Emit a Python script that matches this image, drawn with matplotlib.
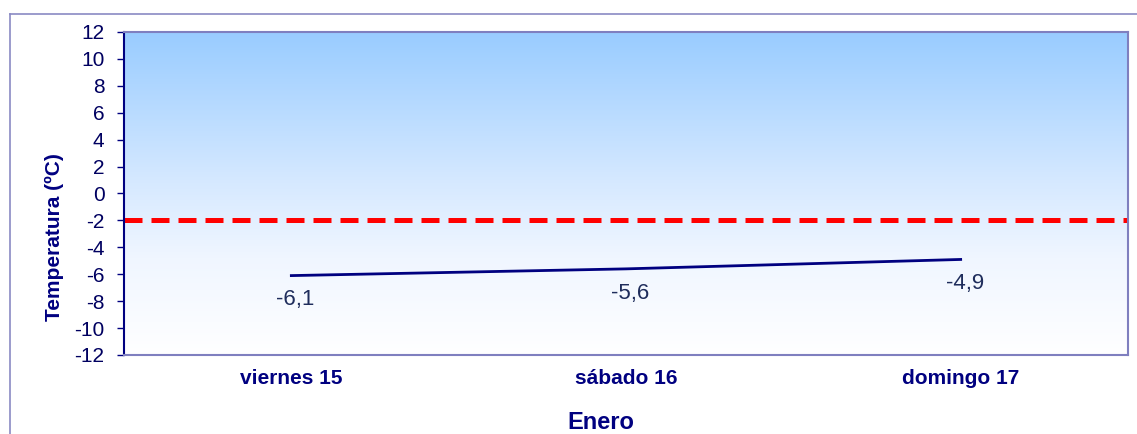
import matplotlib
matplotlib.use("Agg")
import matplotlib.pyplot as plt
from matplotlib.colors import LinearSegmentedColormap
from matplotlib.lines import Line2D
import numpy as np

# Data
days = ["viernes 15", "sábado 16", "domingo 17"]
temps = [-6.1, -5.6, -4.9]
threshold = -2
y_ticks = list(range(-12, 13, 2))

W, H = 1137, 434
fig = plt.figure(figsize=(W / 100, H / 100), dpi=100)
fig.patch.set_facecolor("white")

ax = fig.add_axes([124 / W, 1 - 355 / H, (1128 - 124) / W, (355 - 32) / H])

x = np.arange(len(days))
ax.set_xlim(-0.5, len(days) - 0.5)
ax.set_ylim(-12, 12)

# background gradient: light blue at top, white at bottom
cmap = LinearSegmentedColormap.from_list(
    "bg", [(0, "#ffffff"), (0.3, "#f0f6ff"), (0.55, "#d4e8ff"), (1, "#99ccff")])
grad = np.linspace(0, 1, 256).reshape(-1, 1)
ax.imshow(grad, cmap=cmap, aspect="auto", origin="lower",
          extent=[-0.5, len(days) - 0.5, -12, 12], zorder=0)

ax.axhline(threshold, color="#ff0000", lw=3.6, ls=(0, (3.6, 1.8)), zorder=2)
ax.plot(x, temps, color="#000080", lw=2, zorder=3)

for xi, t in zip(x, temps):
    ax.annotate(f"{t:.1f}".replace(".", ","), (xi, t), xytext=(3, -10),
                textcoords="offset points", ha="center", va="top",
                fontsize=16, color="#1f2d5c", family="Liberation Sans")

ax.set_yticks(y_ticks)
ax.set_yticklabels([str(v) for v in y_ticks], fontsize=15, color="#000060",
                   family="Liberation Sans")
ax.set_xticks(x)
ax.set_xticklabels(days, fontsize=15, fontweight="bold", color="#000080",
                   family="Liberation Sans")
ax.tick_params(axis="x", length=0, pad=10)
ax.tick_params(axis="y", length=5, width=1, color="#000080", pad=9)

fig.text(54 / W, 1 - 237 / H, "Temperatura (ºC)", rotation=90, ha="center",
         va="center", fontsize=15, fontweight="bold", color="#000080",
         family="Liberation Sans")
fig.text(601 / W, 1 - 429 / H, "Enero", ha="center", va="baseline",
         fontsize=17, fontweight="bold", color="#000080",
         family="Liberation Sans")

ax.spines["left"].set_color("#000080")
ax.spines["left"].set_linewidth(1.5)
for side in ("top", "right", "bottom"):
    ax.spines[side].set_color("#7f7fbf")
    ax.spines[side].set_linewidth(1.5)

# outer chart frame
fig.add_artist(Line2D([10 / W, 1], [1 - 14 / H, 1 - 14 / H], color="#8a8ac4", lw=1.2))
fig.add_artist(Line2D([10 / W, 10 / W], [0, 1 - 14 / H], color="#8a8ac4", lw=1.2))

fig.savefig("out.png", dpi=100)
